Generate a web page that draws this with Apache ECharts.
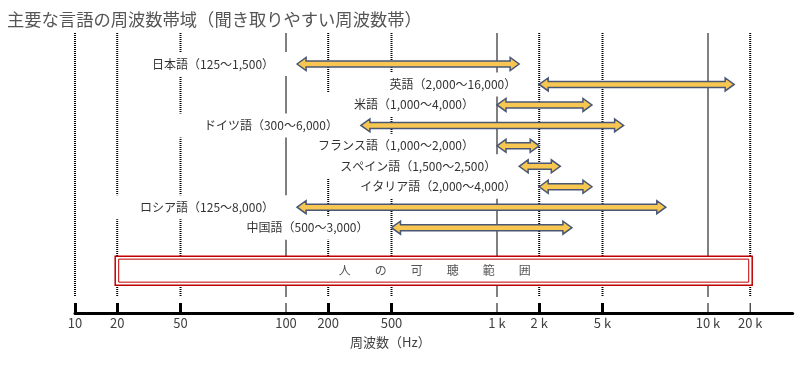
<!DOCTYPE html>
<html>
<head>
<meta charset="utf-8">
<script src="https://cdn.jsdelivr.net/npm/echarts@6/dist/echarts.min.js"></script>
<style>
  html, body { margin: 0; padding: 0; background: #fff; }
  #chart { width: 812px; height: 369px; }
</style>
</head>
<body>
<div id="chart"></div>
<script>
// ---- data ----
const languages = ['日本語', '英語', '米語', 'ドイツ語', 'フランス語', 'スペイン語', 'イタリア語', 'ロシア語', '中国語'];
const lowHz  = [125, 2000, 1000, 300, 1000, 1500, 2000, 125, 500];
const highHz = [1500, 16000, 4000, 6000, 2000, 2500, 4000, 8000, 3000];
const tickHz = [10, 20, 50, 100, 200, 500, 1000, 2000, 5000, 10000, 20000];
const tickLabels = ['10', '20', '50', '100', '200', '500', '1 k', '2 k', '5 k', '10 k', '20 k'];
const solidGridHz = [100, 1000, 10000];
const thickTickHz = [10, 20, 50, 200, 500, 2000, 5000];
const hearingRangeHz = [20, 20000];
const hearingLabel = '人　　の　　可　　聴　　範　　囲';
const titleText = '主要な言語の周波数帯域（聞き取りやすい周波数帯）';
const axisName = '周波数（Hz）';

// ---- axis scale of the reference (quasi-logarithmic, piecewise within each decade) ----
const scaleMantissa = [1, 1.5, 2, 2.5, 3, 4, 5, 10];
const scaleFraction = [0, 0.105, 0.2, 0.3, 0.355, 0.45, 0.5, 1];
function hzToPos(f) {
  const e = Math.floor(Math.log10(f) + 1e-9);
  const m = f / Math.pow(10, e);
  for (let i = 0; i < scaleMantissa.length - 1; i++) {
    if (m <= scaleMantissa[i + 1] + 1e-9) {
      const t = (m - scaleMantissa[i]) / (scaleMantissa[i + 1] - scaleMantissa[i]);
      return e + scaleFraction[i] + t * (scaleFraction[i + 1] - scaleFraction[i]);
    }
  }
  return e + 1;
}
const fmt = v => v.toLocaleString('en-US');
const rowLabels = languages.map((l, i) => l + '（' + fmt(lowHz[i]) + '〜' + fmt(highHz[i]) + '）');
const tickPos = tickHz.map(hzToPos);
const FONT = '"Noto Sans CJK JP", "Noto Sans", sans-serif';
const HEAR_ROW = 10.1;

const gridData = tickHz.map(h => [hzToPos(h), solidGridHz.includes(h) ? 1 : 0, thickTickHz.includes(h) ? 1 : 0]);
const rangeData = languages.map((l, i) => [hzToPos(lowHz[i]), hzToPos(highHz[i]), i]);

const chart = echarts.init(document.getElementById('chart'), null, { renderer: 'canvas' });
chart.setOption({
  animation: false,
  backgroundColor: '#fff',
  title: {
    text: titleText, left: 7, top: 9, padding: 0,
    textStyle: { fontFamily: FONT, fontSize: 17.3, fontWeight: 'normal', color: '#555', lineHeight: 20 }
  },
  grid: { left: 75, right: 19.3, top: 33, bottom: 56 },
  xAxis: {
    type: 'value', min: 1, max: 4.4014, position: 'bottom',
    axisLine: { onZero: false, lineStyle: { color: '#000', width: 3 } },
    axisTick: { show: true, customValues: thickTickHz.map(hzToPos), inside: true, length: 10, lineStyle: { color: '#000', width: 3 } },
    axisLabel: {
      customValues: tickPos, margin: 4, fontSize: 13, color: '#404040', fontFamily: FONT,
      formatter: v => {
        let best = 0;
        tickPos.forEach((p, i) => { if (Math.abs(p - v) < Math.abs(tickPos[best] - v)) best = i; });
        return tickLabels[best];
      }
    },
    splitLine: { show: false }
  },
  yAxis: { type: 'value', inverse: true, min: -1.515, max: 12.17, show: false },
  graphic: [{
    type: 'text', left: 350, top: 336,
    style: { text: axisName, fill: '#404040', font: '13px ' + FONT }
  }],
  series: [
    {
      type: 'custom', z: 1, silent: true, clip: false,
      data: gridData,
      renderItem: (params, api) => {
        const x = api.coord([api.value(0), 0])[0];
        const cs = params.coordSys;
        const top = cs.y, bot = cs.y + cs.height;
        const solid = api.value(1) === 1;
        const children = [{
          type: 'line',
          shape: { x1: x, y1: top, x2: x, y2: bot - 16 },
          style: solid ? { stroke: '#000', lineWidth: 1 } : { stroke: '#000', lineWidth: 2, lineDash: [1, 1] }
        }];
        if (api.value(2) !== 1) {
          children.push({ type: 'line', shape: { x1: x, y1: bot - 10, x2: x, y2: bot }, style: { stroke: '#000', lineWidth: 1 } });
        }
        return { type: 'group', children };
      }
    },
    {
      type: 'custom', z: 2, silent: true, clip: false,
      data: [hearingRangeHz.map(hzToPos)],
      renderItem: (params, api) => {
        const a = api.coord([api.value(0), HEAR_ROW]);
        const b = api.coord([api.value(1), HEAR_ROW]);
        const cy = a[1];
        return {
          type: 'group', children: [
            { type: 'rect', shape: { x: a[0] - 2, y: cy - 14.5, width: b[0] - a[0] + 4, height: 29 }, style: { fill: '#fff', stroke: '#c00000', lineWidth: 1.5 } },
            { type: 'rect', shape: { x: a[0] + 1.5, y: cy - 11.5, width: b[0] - a[0] - 3, height: 23 }, style: { fill: null, stroke: '#c00000', lineWidth: 1 } },
            { type: 'text', style: { text: hearingLabel, x: (a[0] + b[0]) / 2 + 1, y: cy, align: 'center', verticalAlign: 'middle', fill: '#555', font: '12px ' + FONT } }
          ]
        };
      }
    },
    {
      type: 'custom', z: 3, silent: true, clip: false,
      data: rangeData,
      renderItem: (params, api) => {
        const p = api.coord([api.value(0), api.value(2)]);
        return {
          type: 'text',
          style: {
            text: rowLabels[params.dataIndex], x: p[0] - 2, y: p[1],
            align: 'right', verticalAlign: 'middle',
            backgroundColor: '#fff', padding: [5, 21, 5, 30], lineHeight: 14,
            fill: '#333', font: '12px ' + FONT
          }
        };
      }
    },
    {
      type: 'custom', z: 4, silent: true, clip: false,
      data: rangeData,
      renderItem: (params, api) => {
        const a = api.coord([api.value(0), api.value(2)]);
        const b = api.coord([api.value(1), api.value(2)]);
        const x0 = a[0], x1 = b[0], y = a[1];
        const hh = 6.5, bh = 3, hl = 9;
        return {
          type: 'polygon',
          shape: { points: [
            [x0, y], [x0 + hl, y - hh], [x0 + hl, y - bh], [x1 - hl, y - bh], [x1 - hl, y - hh],
            [x1, y], [x1 - hl, y + hh], [x1 - hl, y + bh], [x0 + hl, y + bh], [x0 + hl, y + hh]
          ] },
          style: { fill: '#f7c752', stroke: '#4a5774', lineWidth: 1.5, lineJoin: 'miter' }
        };
      }
    }
  ]
});
</script>
</body>
</html>
